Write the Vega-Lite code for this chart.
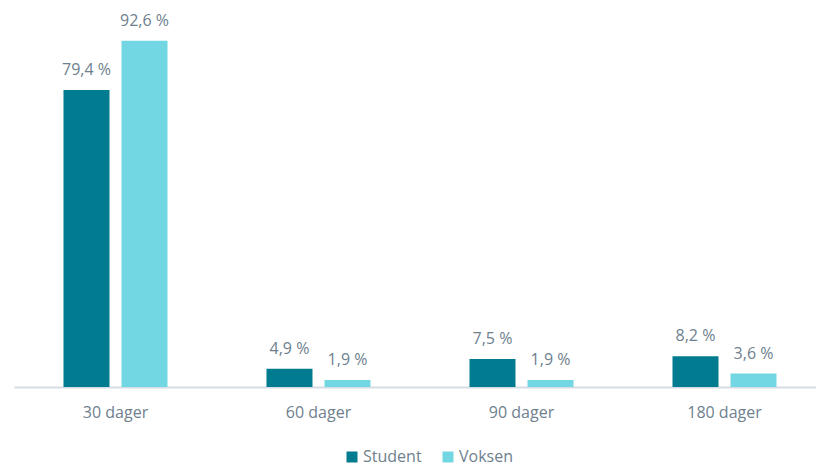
{
  "$schema": "https://vega.github.io/schema/vega-lite/v6.json",
  "width": 802,
  "height": 374,
  "autosize": "none",
  "padding": {"left": 14, "top": 13, "right": 0, "bottom": 80},
  "data": {
    "values": [
      {"periode": "30 dager", "gruppe": "Student", "value": 79.4},
      {"periode": "30 dager", "gruppe": "Voksen", "value": 92.6},
      {"periode": "60 dager", "gruppe": "Student", "value": 4.9},
      {"periode": "60 dager", "gruppe": "Voksen", "value": 1.9},
      {"periode": "90 dager", "gruppe": "Student", "value": 7.5},
      {"periode": "90 dager", "gruppe": "Voksen", "value": 1.9},
      {"periode": "180 dager", "gruppe": "Student", "value": 8.2},
      {"periode": "180 dager", "gruppe": "Voksen", "value": 3.6}
    ]
  },
  "transform": [
    {"calculate": "replace(format(datum.value, '.1f'), '.', ',') + ' %'", "as": "label"}
  ],
  "encoding": {
    "x": {
      "field": "periode",
      "type": "nominal",
      "sort": ["30 dager", "60 dager", "90 dager", "180 dager"],
      "scale": {"range": [0, 812], "paddingInner": 0, "paddingOuter": 0},
      "axis": {
        "title": null,
        "labelAngle": 0,
        "ticks": false,
        "grid": false,
        "domainColor": "#D5DCE4",
        "domainWidth": 2,
        "labelColor": "#6E7F8E",
        "labelFont": "Open Sans",
        "labelFontSize": 16,
        "labelPadding": 17
      }
    },
    "xOffset": {
      "field": "gruppe",
      "type": "nominal",
      "sort": ["Student", "Voksen"],
      "scale": {"paddingInner": 0.207, "paddingOuter": 0.853}
    },
    "y": {
      "field": "value",
      "type": "quantitative",
      "scale": {"domain": [0, 100]},
      "axis": null
    }
  },
  "layer": [
    {
      "mark": {"type": "bar"},
      "encoding": {
        "color": {
          "field": "gruppe",
          "type": "nominal",
          "sort": ["Student", "Voksen"],
          "scale": {"domain": ["Student", "Voksen"], "range": ["#007B8F", "#72D7E2"]},
          "legend": {
            "title": null,
            "orient": "none",
            "direction": "horizontal",
            "legendX": 330,
            "legendY": 436,
            "symbolType": "square",
            "symbolSize": 121,
            "symbolStrokeWidth": 0,
            "labelColor": "#6E7F8E",
            "labelFont": "Open Sans",
            "labelFontSize": 16,
            "labelOffset": 3,
            "columnPadding": 18
          }
        }
      }
    },
    {
      "mark": {
        "type": "text",
        "baseline": "bottom",
        "dy": -12,
        "font": "Open Sans",
        "fontSize": 16,
        "color": "#6E7F8E"
      },
      "encoding": {"text": {"field": "label"}}
    }
  ],
  "config": {"view": {"stroke": null}}
}
